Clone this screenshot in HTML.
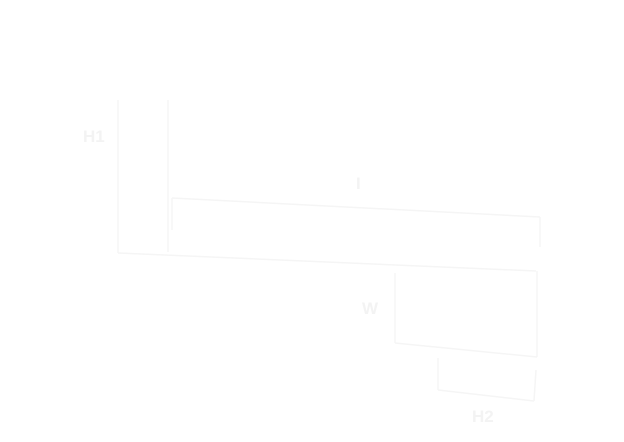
<!DOCTYPE html>
<html><head><style>html,body{margin:0;padding:0;background:#fff;width:624px;height:442px;overflow:hidden}</style></head>
<body>
<svg width="624" height="442" xmlns="http://www.w3.org/2000/svg" style="position:absolute;left:0;top:0">
<g fill="none" stroke="#f5f5f5" stroke-width="1.5">
<line x1="118" y1="100" x2="118" y2="253"/>
<line x1="168" y1="100" x2="168" y2="252"/>
<line x1="172" y1="198" x2="172" y2="230"/>
<line x1="172" y1="198" x2="540" y2="217"/>
<line x1="540" y1="217" x2="540" y2="247"/>
<line x1="118" y1="253" x2="536" y2="271"/>
<line x1="395" y1="273" x2="395" y2="343"/>
<line x1="537" y1="271" x2="537" y2="357"/>
<line x1="395" y1="343" x2="537" y2="357"/>
<line x1="438" y1="358" x2="438" y2="390"/>
<line x1="438" y1="390" x2="534" y2="401"/>
<line x1="536" y1="370" x2="534" y2="401"/>
</g>
<g fill="#f3f3f3" font-family="Liberation Sans, sans-serif" font-size="17" font-weight="bold">
<text x="83" y="142">H1</text>
<text x="356" y="189">I</text>
<text x="362" y="314">W</text>
<text x="472" y="422">H2</text>
</g>
</svg>
</body></html>
